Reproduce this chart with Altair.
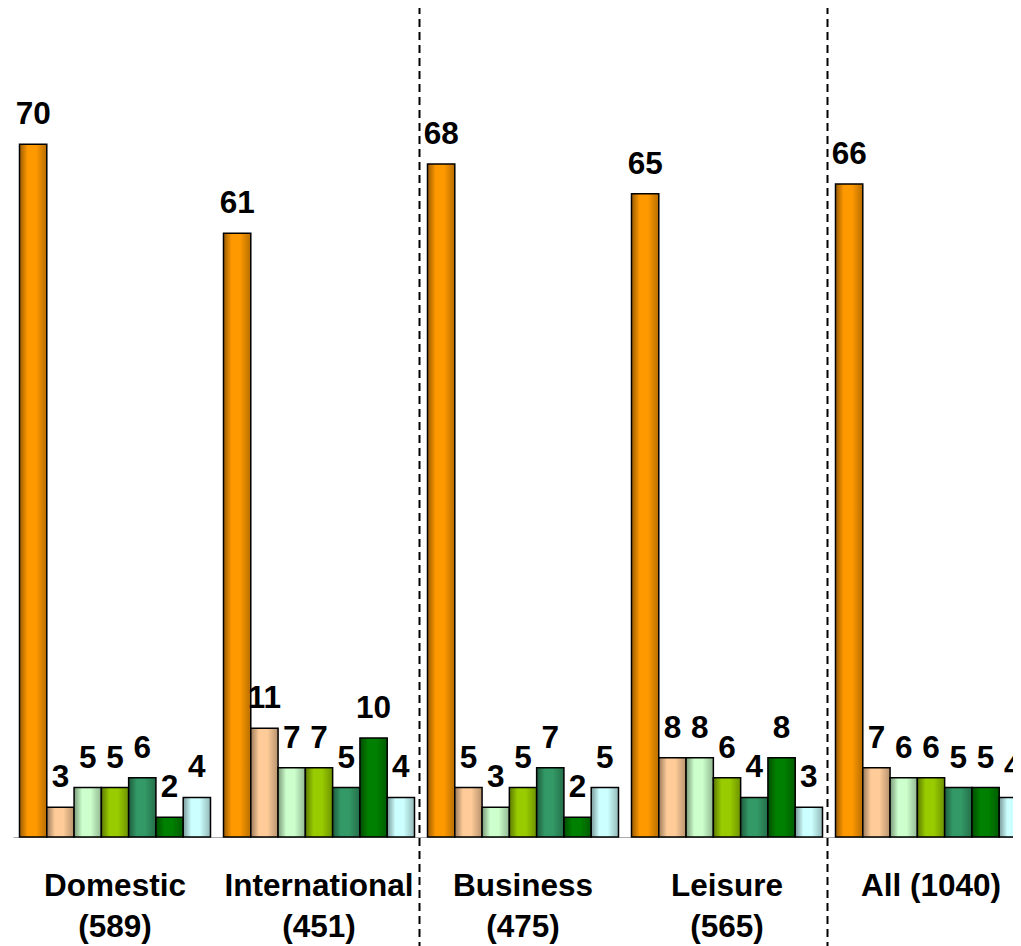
import altair as alt
import pandas as pd

groups = ["Domestic|(589)", "International|(451)", "Business|(475)", "Leisure|(565)", "All (1040)"]
series = ["Series 1", "Series 2", "Series 3", "Series 4", "Series 5", "Series 6", "Series 7"]
domestic = [70, 3, 5, 5, 6, 2, 4]
international = [61, 11, 7, 7, 5, 10, 4]
business = [68, 5, 3, 5, 7, 2, 5]
leisure = [65, 8, 8, 6, 4, 8, 3]
all_resp = [66, 7, 6, 6, 5, 5, 4]
divider_groups = ["Business|(475)", "All (1040)"]

colors = ["#FF9900", "#FFCC99", "#CCFFCC", "#99CC00", "#339966", "#008000", "#CCFFFF"]

values_by_group = [domestic, international, business, leisure, all_resp]
rows = []
for g, vals in zip(groups, values_by_group):
    for s, v in zip(series, vals):
        rows.append({"group": g, "series": s, "value": v})
df = pd.DataFrame(rows)
rule_df = pd.DataFrame({"group": divider_groups})


def shade(hex_color, f):
    h = hex_color.lstrip("#")
    r, g, b = (int(h[i:i + 2], 16) for i in (0, 2, 4))
    return "#%02x%02x%02x" % (int(r * f), int(g * f), int(b * f))


x_scale = alt.Scale(domain=groups, paddingInner=13 / 204, paddingOuter=6.5 / 204)
x_axis = alt.Axis(
    title=None, labelExpr="split(datum.value, '|')", labelAngle=0, labelFontSize=31.5,
    labelFont="Liberation Sans", labelFontWeight="bold", labelColor="black",
    labelPadding=33, labelLineHeight=41, ticks=False, domain=True, domainColor="#aaaaaa",
    domainWidth=1, labelLimit=0, grid=False,
)
x_enc = alt.X("group:N", scale=x_scale, axis=x_axis)
xo_enc = alt.XOffset("series:N", scale=alt.Scale(domain=series, paddingInner=0, paddingOuter=0))
y_enc = alt.Y("value:Q", scale=alt.Scale(domain=[0, 83.27], nice=False, zero=True), axis=None)

base = alt.Chart(df)
layers = []
for s, c in zip(series, colors):
    grad = alt.LinearGradient(
        gradient="linear", x1=0, x2=1, y1=0, y2=0,
        stops=[
            alt.GradientStop(color=shade(c, 0.6), offset=0),
            alt.GradientStop(color=c, offset=0.3),
            alt.GradientStop(color=c, offset=0.6),
            alt.GradientStop(color=shade(c, 0.72), offset=1),
        ],
    )
    layers.append(
        base.transform_filter(alt.datum.series == s)
        .mark_bar(fill=grad, stroke="black", strokeWidth=1.5)
        .encode(x=x_enc, xOffset=xo_enc, y=y_enc)
    )

text = base.mark_text(
    dy=-20, baseline="alphabetic", align="center", fontSize=31.5,
    font="Liberation Sans", fontWeight="bold", color="black",
).encode(x=x_enc, xOffset=xo_enc, y=y_enc, text="value:Q")

rules = alt.Chart(rule_df).mark_rule(
    strokeDash=[8, 5], strokeWidth=2, color="black", xOffset=-8
).encode(
    x=alt.X("group:N", scale=x_scale, axis=x_axis, bandPosition=0),
    y=alt.value(-20), y2=alt.value(960),
)

chart = alt.layer(*layers, text, rules).properties(
    width=1020, height=824,
    autosize=alt.AutoSizeParams(type="none"),
    padding={"left": 5, "top": 5, "right": -20, "bottom": 109},
).configure_view(stroke=None)

chart.save("out.html", embed_options={"renderer": "svg", "actions": False})
